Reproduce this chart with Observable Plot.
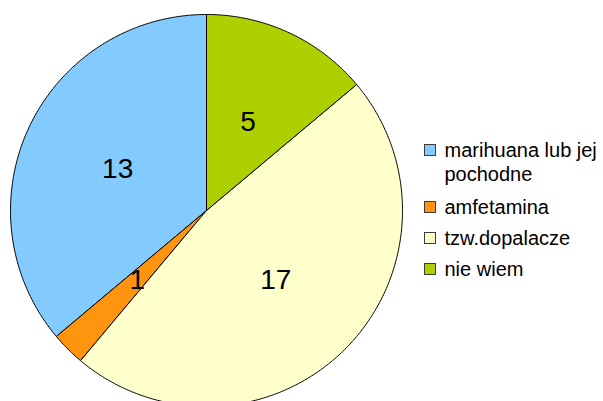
<!DOCTYPE html>
<html>
<head>
<meta charset="utf-8">
<script src="https://cdn.jsdelivr.net/npm/d3@7"></script>
<script src="https://cdn.jsdelivr.net/npm/@observablehq/plot@0.6"></script>
<style>
  html, body { margin: 0; padding: 0; background: #fff; overflow: hidden; }
  svg { overflow: hidden; display: block; }
</style>
</head>
<body>
<div id="chart"></div>
<script>
// Data
const categories = ["marihuana lub jej pochodne", "amfetamina", "tzw.dopalacze", "nie wiem"];
const legendLabels = ["marihuana lub jej\npochodne", "amfetamina", "tzw.dopalacze", "nie wiem"];
const counts = [13, 1, 17, 5];
const colors = ["#83caff", "#ff950e", "#ffffcc", "#aecf00"];

// Layout
const W = 603, H = 401;
const cx = 206, cy = 210, R = 196;
const labelR = 0.5 * R;

// Slices drawn counter-clockwise from 12 o'clock (as in the original)
const arcs = d3.pie().sort(null).startAngle(2 * Math.PI).endAngle(0)(counts);

const slicePts = [];
arcs.forEach((a, i) => {
  const cat = categories[i];
  slicePts.push({cat, x: cx, y: cy});
  const n = Math.max(2, Math.ceil(Math.abs(a.endAngle - a.startAngle) / (Math.PI / 360)));
  for (let k = 0; k <= n; k++) {
    const t = a.startAngle + (a.endAngle - a.startAngle) * k / n;
    slicePts.push({cat, x: cx + R * Math.sin(t), y: cy - R * Math.cos(t)});
  }
  slicePts.push({cat, x: cx, y: cy});
});

const valueLabels = arcs.map((a, i) => {
  const m = (a.startAngle + a.endAngle) / 2;
  return {cat: categories[i], value: counts[i], x: cx + labelR * Math.sin(m), y: cy - labelR * Math.cos(m)};
});

// Legend rows
const lx = 424, side = 11, lineH = 24, rowGap = 31;
let ly = 150;
const legendRows = [];
const legendLines = [];
categories.forEach((c, i) => {
  legendRows.push({cat: c, y: ly});
  const lines = legendLabels[i].split("\n");
  lines.forEach((t, j) => legendLines.push({cat: c, text: t, y: ly + j * lineH}));
  ly += rowGap + (lines.length - 1) * (lineH + 2);
});

const chart = Plot.plot({
  width: W,
  height: H,
  margin: 0,
  style: {fontFamily: "'Liberation Sans', Arial, sans-serif", background: "#fff"},
  x: {domain: [0, W], range: [0, W], axis: null},
  y: {domain: [0, H], range: [0, H], axis: null},
  color: {domain: categories, range: colors},
  marks: [
    Plot.line(slicePts, {x: "x", y: "y", z: "cat", fill: "cat", stroke: "#000", strokeWidth: 1, strokeLinejoin: "round", curve: "linear"}),
    Plot.text(valueLabels, {x: "x", y: "y", text: d => String(d.value), fontSize: 28, fill: "#000", textAnchor: "middle", lineAnchor: "middle"}),
    Plot.rect(legendRows, {x1: () => lx + 0.5, x2: () => lx + 0.5 + side, y1: d => d.y - side / 2, y2: d => d.y + side / 2, fill: "cat", stroke: "#3c3c3c", strokeWidth: 1}),
    Plot.text(legendLines, {x: () => lx + side + 9, y: "y", text: "text", fontSize: 20, fill: "#000", textAnchor: "start", lineAnchor: "middle"})
  ]
});
document.getElementById("chart").appendChild(chart);
</script>
</body>
</html>
